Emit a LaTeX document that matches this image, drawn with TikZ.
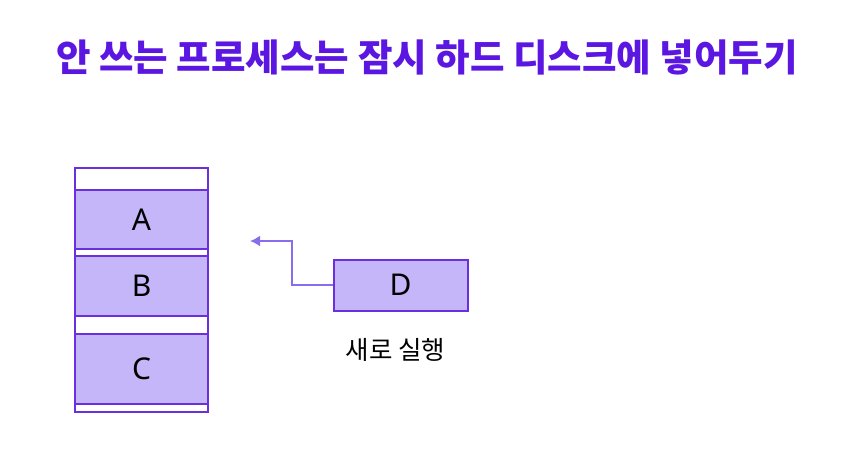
\documentclass[tikz,border=0pt]{standalone}
\usepackage{fontspec}
\setmainfont{Noto Sans CJK KR}
\newfontfamily\latinfont{Noto Sans}
\usetikzlibrary{calc,arrows.meta}
\definecolor{violet}{HTML}{5B16E2}
\definecolor{edge}{HTML}{6A30DE}
\definecolor{lavender}{HTML}{C4B6F8}
\definecolor{lilac}{HTML}{8A6CEE}

\begin{document}
\begin{tikzpicture}[x=1pt,y=-1pt,slot/.style={draw=edge,line width=2pt,fill=white,minimum width=133pt,inner sep=0pt},proc/.style={slot,fill=lavender,font=\latinfont\fontsize{30}{30}\selectfont},arrow/.style={-{Latex[length=10pt,width=11pt]},draw=lilac,line width=2pt}]
  \useasboundingbox (0,0) rectangle (854,464);
  \node[font=\fontsize{37.5}{37.5}\bfseries\selectfont,text=violet] (title) at (427,57) {안 쓰는 프로세스는 잠시 하드 디스크에 넣어두기};
  \node[slot,minimum height=22pt] (top) at (141.5,179) {};
  \node[proc,minimum height=59pt] (A) at (141.5,219.5) {A};
  \node[slot,minimum height=7pt] (gap1) at (141.5,252.5) {};
  \node[proc,minimum height=60pt] (B) at (141.5,286) {B};
  \node[slot,minimum height=18pt] (gap2) at (141.5,325) {};
  \node[proc,minimum height=70pt] (C) at (141.5,369) {C};
  \node[slot,minimum height=8pt] (bottom) at (141.5,408) {};
  \node[proc,minimum width=134pt,minimum height=51pt] (D) at (400.5,285) {D};
  \node[font=\fontsize{25.5}{25.5}\selectfont] (new) at ($ (D) + (-5,65) $) {새로 실행};
  \coordinate (tip) at (250,241);
  \draw[arrow] (D.west) -| ($ (tip) + (42,0) $) -- (tip);
\end{tikzpicture}
\end{document}
